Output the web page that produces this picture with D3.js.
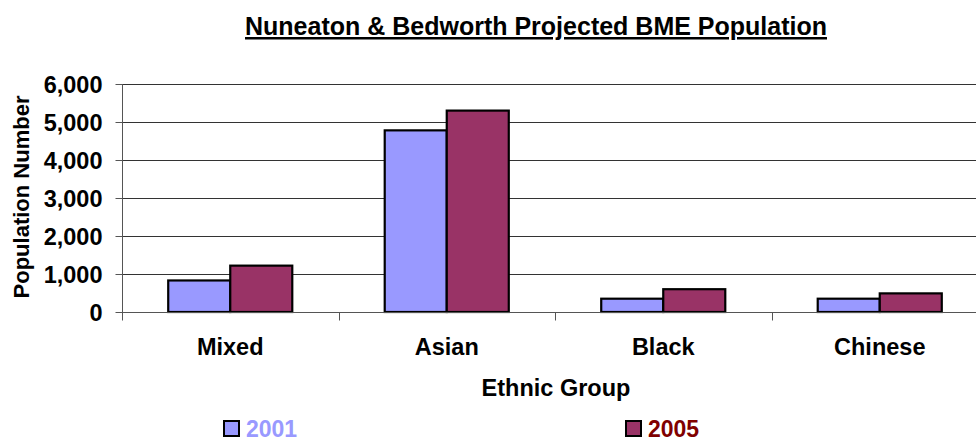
<!DOCTYPE html>
<html>
<head>
<meta charset="utf-8">
<script src="https://cdn.jsdelivr.net/npm/d3@7"></script>
<style>
  body { margin: 0; background: #fff; }
  text { font-family: "Liberation Sans", Arial, sans-serif; font-weight: bold; }
</style>
</head>
<body>
<svg id="chart" width="976" height="437"></svg>
<script>
// data
const groups = ["Mixed", "Asian", "Black", "Chinese"];
const years = ["2001", "2005"];
const values2001 = [830, 4780, 350, 350];
const values2005 = [1220, 5300, 600, 490];
const yTicks = [0, 1000, 2000, 3000, 4000, 5000, 6000];

const svg = d3.select("#chart");
const plotL = 122, plotR = 988, plotT = 84, plotB = 312;

const rows = groups.map((g, i) => ({ group: g, vals: [values2001[i], values2005[i]] }));

const x = d3.scaleBand().domain(groups).range([plotL, plotR]).paddingInner(0.427).paddingOuter(0.2135);
const xs = d3.scaleBand().domain(years).range([0, x.bandwidth()]);
const y = d3.scaleLinear().domain([0, 6000]).range([plotB, plotT]);

const fills = { "2001": "#9999ff", "2005": "#993366" };
const textCol = { "2001": "#9999ff", "2005": "#800000" };

// title
svg.append("text")
    .attr("x", 536).attr("y", 35)
    .attr("text-anchor", "middle")
    .attr("font-size", 25)
    .attr("text-decoration", "underline")
    .text("Nuneaton & Bedworth Projected BME Population");

// gridlines
svg.append("g").selectAll("line")
    .data(yTicks.filter(d => d > 0))
    .enter().append("line")
    .attr("x1", plotL).attr("x2", plotR)
    .attr("y1", d => Math.round(y(d)) + 0.5).attr("y2", d => Math.round(y(d)) + 0.5)
    .attr("stroke", "#333").attr("stroke-width", 1);

// y axis
const yAxis = svg.append("g")
    .attr("transform", `translate(${plotL + 0.5},0)`)
    .call(d3.axisLeft(y).tickValues(yTicks).tickSize(7).tickPadding(13).tickFormat(d3.format(",")));
yAxis.selectAll("text").attr("font-size", 23.5).attr("fill", "#000").attr("dy", "0.36em");
yAxis.selectAll("line, path").attr("stroke", "#555");
yAxis.select("path").attr("d", `M0,${plotT}V${plotB + 7}`);

// bars
const bars = svg.append("g").selectAll("g")
    .data(rows)
    .enter().append("g")
    .attr("transform", d => `translate(${x(d.group)},0)`);

bars.selectAll("rect")
    .data(d => d.vals.map((v, i) => ({ year: years[i], v: v })))
    .enter().append("rect")
    .attr("x", d => xs(d.year))
    .attr("width", xs.bandwidth())
    .attr("y", d => y(d.v))
    .attr("height", d => y(0) - y(d.v))
    .attr("fill", d => fills[d.year])
    .attr("stroke", "#000")
    .attr("stroke-width", 2.2);

// x axis
const xAxisG = svg.append("g").attr("transform", `translate(0,${Math.round(plotB) + 0.5})`);
xAxisG.append("line").attr("x1", plotL).attr("x2", plotR).attr("stroke", "#555");
const tickXs = groups.map(g => x(g) - x.step() * x.paddingInner() / 2).concat([plotR]);
xAxisG.selectAll("line.tk")
    .data(tickXs)
    .enter().append("line")
    .attr("class", "tk")
    .attr("x1", d => Math.round(d) + 0.5).attr("x2", d => Math.round(d) + 0.5)
    .attr("y1", 0).attr("y2", 8)
    .attr("stroke", "#555");

svg.append("g").selectAll("text")
    .data(groups)
    .enter().append("text")
    .attr("x", d => x(d) + x.bandwidth() / 2)
    .attr("y", 355)
    .attr("text-anchor", "middle")
    .attr("font-size", 23.5)
    .text(d => d);

// axis titles
svg.append("text")
    .attr("x", 556).attr("y", 396)
    .attr("text-anchor", "middle")
    .attr("font-size", 23.5)
    .text("Ethnic Group");

svg.append("text")
    .attr("transform", "translate(29,197) rotate(-90)")
    .attr("text-anchor", "middle")
    .attr("font-size", 22)
    .text("Population Number");

// legend
const legendX = { "2001": 224, "2005": 626 };
const legend = svg.append("g").selectAll("g")
    .data(years)
    .enter().append("g")
    .attr("transform", d => `translate(${legendX[d]},421)`);
legend.append("rect")
    .attr("width", 15).attr("height", 15)
    .attr("fill", d => fills[d])
    .attr("stroke", "#000").attr("stroke-width", 2);
legend.append("text")
    .attr("x", 22).attr("y", 16)
    .attr("font-size", 23)
    .attr("fill", d => textCol[d])
    .text(d => d);
</script>
</body>
</html>
